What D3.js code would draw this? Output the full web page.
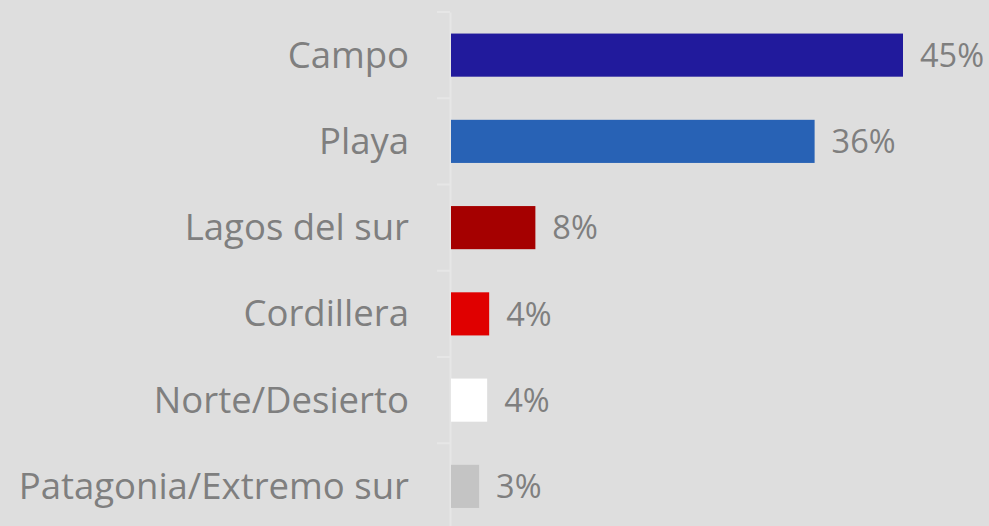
<!DOCTYPE html>
<html>
<head>
<meta charset="utf-8">
<script src="https://cdn.jsdelivr.net/npm/d3@7"></script>
<style>
  html, body { margin: 0; padding: 0; background: #dedede; }
  svg { display: block; }
</style>
</head>
<body>
<div id="chart"></div>
<script>
// data
var categories = ["Campo", "Playa", "Lagos del sur", "Cordillera", "Norte/Desierto", "Patagonia/Extremo sur"];
var values = [45, 36.2, 8.4, 3.8, 3.6, 2.8];
var barColors = ["#211a9c", "#2862b5", "#a50000", "#e00000", "#ffffff", "#c4c4c4"];

var width = 989, height = 526;
var margin = {top: 12, left: 450};

var svg = d3.select("#chart").append("svg")
    .attr("width", width)
    .attr("height", height)
    .style("background", "#dedede");

var x = d3.scaleLinear().domain([0, 45]).range([0, 452]);
var y = d3.scaleBand().domain(categories).range([0, 517.5]).paddingInner(0.5).paddingOuter(0.25);

var g = svg.append("g").attr("transform", "translate(" + margin.left + "," + margin.top + ")");

// category axis, ticks sit between the bars
var yAxis = d3.axisLeft(y).tickSize(0).tickPadding(41);
var axisG = g.append("g").call(yAxis);
axisG.select(".domain").attr("stroke", "#e6e6e6").attr("stroke-width", 2);
axisG.selectAll("text")
    .attr("fill", "#7f7f7f")
    .attr("dy", "0.34em")
    .style("font-family", "'Open Sans', sans-serif")
    .style("font-size", "36.5px");

var step = y.step();
g.selectAll(".sep")
    .data(d3.range(categories.length + 1))
    .enter().append("line")
    .attr("class", "sep")
    .attr("x1", -13).attr("x2", 0)
    .attr("y1", function(i) { return i * step; })
    .attr("y2", function(i) { return i * step; })
    .attr("stroke", "#e6e6e6")
    .attr("stroke-width", 2);

g.selectAll(".bar")
    .data(values)
    .enter().append("rect")
    .attr("class", "bar")
    .attr("x", 1)
    .attr("y", function(d, i) { return y(categories[i]); })
    .attr("width", function(d) { return x(d); })
    .attr("height", y.bandwidth())
    .attr("fill", function(d, i) { return barColors[i]; });

var fmt = d3.format(".0f");
g.selectAll(".val")
    .data(values)
    .enter().append("text")
    .attr("class", "val")
    .attr("x", function(d) { return x(d) + 18; })
    .attr("y", function(d, i) { return y(categories[i]) + y.bandwidth() / 2; })
    .attr("dy", "0.36em")
    .attr("fill", "#7f7f7f")
    .style("font-family", "'Open Sans', sans-serif")
    .style("font-size", "32.5px")
    .text(function(d) { return fmt(d) + "%"; });
</script>
</body>
</html>
